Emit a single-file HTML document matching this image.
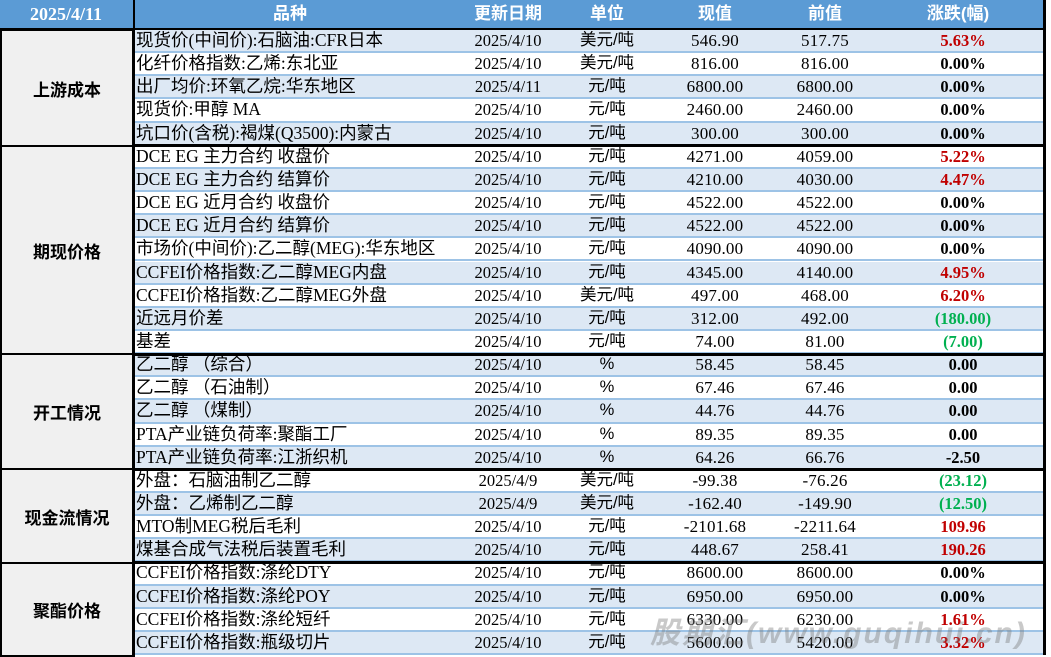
<!DOCTYPE html>
<html><head><meta charset="utf-8"><style>
*{margin:0;padding:0;box-sizing:border-box}
body{width:1051px;height:655px;overflow:hidden;background:#fff;position:relative;font-family:"Liberation Serif","Noto Sans CJK SC",serif;}
.hd{position:absolute;left:0;top:0;width:1046px;height:30px;background:#5b9bd5;color:#fff;font-weight:bold;font-size:17px;font-family:"Liberation Sans","Noto Sans CJK SC",sans-serif;border-bottom:2px solid #000}
.hd span{position:absolute;top:0;height:28px;line-height:28px;transform:translateX(-50%);white-space:nowrap}
.row{position:absolute;left:133px;width:913px;height:23.15px;border-bottom:2px solid #9dc3e6;font-size:16.5px;color:#000}
.b{background:#dde8f4}
.row span{position:absolute;top:0;height:21px;line-height:21px;white-space:nowrap;overflow:visible}
.row span.n{font-size:17px;letter-spacing:0.2px}
.c{transform:translateX(-50%)}
.g{position:absolute;left:0;width:135px;background:#f0f0f0;border:2px solid #000;border-right-width:3px;font-family:"Liberation Sans","Noto Sans CJK SC",sans-serif;font-weight:bold;font-size:17px;display:flex;align-items:center;justify-content:center}
.red{color:#c00000;font-weight:bold}.grn{color:#00b050;font-weight:bold}.bk{font-weight:bold}
.sep{position:absolute;left:133px;width:913px;height:3px;background:#000}
</style></head><body>
<div class="hd"><span style="left:66px;font-family:'Liberation Serif',serif;font-size:18px">2025/4/11</span><span style="left:290px">品种</span><span style="left:508px">更新日期</span><span style="left:607px">单位</span><span style="left:715px">现值</span><span style="left:825px">前值</span><span style="left:958px">涨跌(幅)</span></div>
<div style="position:absolute;left:133px;top:0;width:2px;height:30px;background:#000"></div>
<div id="rows"></div>
<div class="g" style="top:29px;height:118px">上游成本</div>
<div class="g" style="top:145px;height:210px">期现价格</div>
<div class="g" style="top:353px;height:117px">开工情况</div>
<div class="g" style="top:468px;height:96px">现金流情况</div>
<div class="g" style="top:562px;height:95px">聚酯价格</div>
<div style="position:absolute;left:1043px;top:0;width:3px;height:655px;background:#000"></div>
<div style="position:absolute;left:650px;top:608px;font:italic bold 30px 'Liberation Sans','Noto Sans CJK SC',sans-serif;color:rgba(120,120,120,0.4);letter-spacing:2px;white-space:nowrap">股期汇(www.guqihui.cn)</div>
<script>
var d=[
["现货价(中间价):石脑油:CFR日本","2025/4/10","美元/吨","546.90","517.75","5.63%","red"],
["化纤价格指数:乙烯:东北亚","2025/4/10","美元/吨","816.00","816.00","0.00%","bk"],
["出厂均价:环氧乙烷:华东地区","2025/4/11","元/吨","6800.00","6800.00","0.00%","bk"],
["现货价:甲醇 MA","2025/4/10","元/吨","2460.00","2460.00","0.00%","bk"],
["坑口价(含税):褐煤(Q3500):内蒙古","2025/4/10","元/吨","300.00","300.00","0.00%","bk"],
["DCE EG 主力合约 收盘价","2025/4/10","元/吨","4271.00","4059.00","5.22%","red"],
["DCE EG 主力合约 结算价","2025/4/10","元/吨","4210.00","4030.00","4.47%","red"],
["DCE EG 近月合约 收盘价","2025/4/10","元/吨","4522.00","4522.00","0.00%","bk"],
["DCE EG 近月合约 结算价","2025/4/10","元/吨","4522.00","4522.00","0.00%","bk"],
["市场价(中间价):乙二醇(MEG):华东地区","2025/4/10","元/吨","4090.00","4090.00","0.00%","bk"],
["CCFEI价格指数:乙二醇MEG内盘","2025/4/10","元/吨","4345.00","4140.00","4.95%","red"],
["CCFEI价格指数:乙二醇MEG外盘","2025/4/10","美元/吨","497.00","468.00","6.20%","red"],
["近远月价差","2025/4/10","元/吨","312.00","492.00","(180.00)","grn"],
["基差","2025/4/10","元/吨","74.00","81.00","(7.00)","grn"],
["乙二醇 （综合）","2025/4/10","%","58.45","58.45","0.00","bk"],
["乙二醇 （石油制）","2025/4/10","%","67.46","67.46","0.00","bk"],
["乙二醇 （煤制）","2025/4/10","%","44.76","44.76","0.00","bk"],
["PTA产业链负荷率:聚酯工厂","2025/4/10","%","89.35","89.35","0.00","bk"],
["PTA产业链负荷率:江浙织机","2025/4/10","%","64.26","66.76","-2.50","bk"],
["外盘：石脑油制乙二醇","2025/4/9","美元/吨","-99.38","-76.26","(23.12)","grn"],
["外盘：乙烯制乙二醇","2025/4/9","美元/吨","-162.40","-149.90","(12.50)","grn"],
["MTO制MEG税后毛利","2025/4/10","元/吨","-2101.68","-2211.64","109.96","red"],
["煤基合成气法税后装置毛利","2025/4/10","元/吨","448.67","258.41","190.26","red"],
["CCFEI价格指数:涤纶DTY","2025/4/10","元/吨","8600.00","8600.00","0.00%","bk"],
["CCFEI价格指数:涤纶POY","2025/4/10","元/吨","6950.00","6950.00","0.00%","bk"],
["CCFEI价格指数:涤纶短纤","2025/4/10","元/吨","6330.00","6230.00","1.61%","red"],
["CCFEI价格指数:瓶级切片","2025/4/10","元/吨","5600.00","5420.00","3.32%","red"]];
var h="";
for(var i=0;i<d.length;i++){var r=d[i],t=30+i*23.15;
h+='<div class="row'+(i%2==0?' b':'')+'" style="top:'+t+'px"><span style="left:3px;font-size:17.5px">'+r[0]+'</span><span class="c" style="left:'+(508-133)+'px">'+r[1]+'</span><span class="c" style="left:'+(607-133)+'px;font-family:\'Liberation Sans\',\'Noto Sans CJK SC\',sans-serif">'+r[2]+'</span><span class="c n" style="left:'+(715-133)+'px">'+r[3]+'</span><span class="c n" style="left:'+(825-133)+'px">'+r[4]+'</span><span class="c '+r[6]+'" style="left:'+(963-133)+'px">'+r[5]+'</span></div>';}
[5,14,19,23].forEach(function(k){h+='<div class="sep" style="top:'+(30+k*23.15-1.5)+'px"></div>';});
document.getElementById("rows").innerHTML=h;
</script>
</body></html>
